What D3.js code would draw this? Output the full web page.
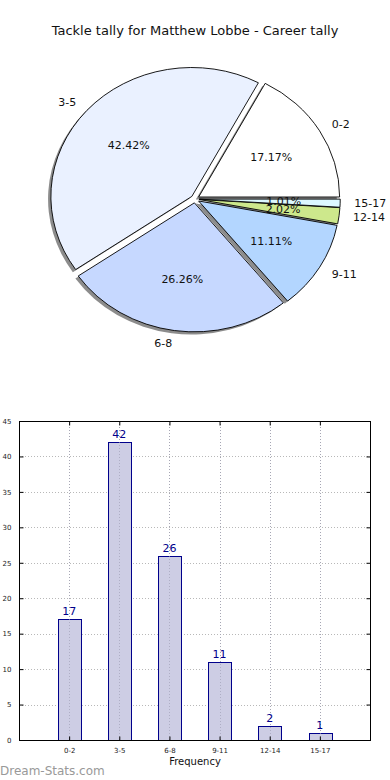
<!DOCTYPE html>
<html>
<head>
<meta charset="utf-8">
<script src="https://cdn.jsdelivr.net/npm/d3@7"></script>
<style>
  body { margin: 0; background: #fff; }
  svg { display: block; font-family: "DejaVu Sans", sans-serif; }
</style>
</head>
<body>
<script>
// data
const categories = ['0-2', '3-5', '6-8', '9-11', '12-14', '15-17'];
const counts = [17, 42, 26, 11, 2, 1];
const sliceColors = ['#ffffff', '#eaf1ff', '#c6d8ff', '#b3d6ff', '#cde88c', '#dcf8ff'];
const yTicks = [0, 5, 10, 15, 20, 25, 30, 35, 40, 45];

const svg = d3.select('body').append('svg')
    .attr('width', 390)
    .attr('height', 780);

svg.append('text')
    .attr('x', 195).attr('y', 35)
    .attr('text-anchor', 'middle')
    .attr('font-size', 13)
    .attr('fill', '#111')
    .text('Tackle tally for Matthew Lobbe - Career tally');

// ---- pie (matplotlib style, counterclockwise from 3 o'clock, elliptical) ----
const cx = 195, cy = 199, rx = 141, ry = 129;
const explode = 0.03;
const total = d3.sum(counts);

const pie = d3.pie().sort(null)
    .startAngle(Math.PI / 2)
    .endAngle(Math.PI / 2 - 2 * Math.PI);
const arcs = pie(counts);
const arc = d3.arc().innerRadius(0).outerRadius(1);

const pieG = svg.append('g')
    .attr('transform', `translate(${cx},${cy}) scale(${rx},${ry})`);

function dir(d) {
    const a = (d.startAngle + d.endAngle) / 2;
    return [Math.sin(a), -Math.cos(a)];
}

// shadows
pieG.selectAll('.shadow')
    .data(arcs)
    .join('path')
    .attr('class', 'shadow')
    .attr('d', arc)
    .attr('transform', d => {
        const [ux, uy] = dir(d);
        return `translate(${ux * explode - 0.02},${uy * explode + 0.02})`;
    })
    .attr('fill', '#000')
    .attr('fill-opacity', 0.45);

// wedges
pieG.selectAll('.wedge')
    .data(arcs)
    .join('path')
    .attr('class', 'wedge')
    .attr('d', arc)
    .attr('transform', d => {
        const [ux, uy] = dir(d);
        return `translate(${ux * explode},${uy * explode})`;
    })
    .attr('fill', (d, i) => sliceColors[i])
    .attr('stroke', '#000')
    .attr('stroke-width', 0.9)
    .attr('vector-effect', 'non-scaling-stroke');

// labels
arcs.forEach((d, i) => {
    const [ux, uy] = dir(d);
    const lx = cx + (1.1 + explode) * rx * ux;
    const ly = cy + (1.1 + explode) * ry * uy;
    svg.append('text')
        .attr('x', lx).attr('y', ly)
        .attr('dy', '0.35em')
        .attr('text-anchor', ux > 0 ? 'start' : 'end')
        .attr('font-size', 11)
        .attr('fill', '#111')
        .text(categories[i]);

    const px = cx + (0.6 + explode) * rx * ux;
    const py = cy + (0.6 + explode) * ry * uy;
    svg.append('text')
        .attr('x', px).attr('y', py)
        .attr('dy', '0.35em')
        .attr('text-anchor', 'middle')
        .attr('font-size', 11)
        .attr('fill', '#111')
        .text((counts[i] / total * 100).toFixed(2) + '%');
});

// ---- bar chart ----
const plotL = 19, plotR = 370, plotT = 421, plotB = 740;
const x = d3.scaleLinear().domain([-1, 6]).range([plotL, plotR]);
const y = d3.scaleLinear().domain([0, 45]).range([plotB, plotT]);
const barW = 0.45;

const gridG = svg.append('g')
    .attr('stroke', '#b8b8b8')
    .attr('stroke-width', 1)
    .attr('stroke-dasharray', '1,2');
gridG.selectAll('.gy')
    .data(yTicks)
    .join('line')
    .attr('x1', plotL).attr('x2', plotR)
    .attr('y1', d => Math.round(y(d)) + 0.5).attr('y2', d => Math.round(y(d)) + 0.5);
gridG.selectAll('.gx')
    .data(categories)
    .join('line')
    .attr('x1', (d, i) => Math.round(x(i)) + 0.5).attr('x2', (d, i) => Math.round(x(i)) + 0.5)
    .attr('y1', plotT).attr('y2', plotB);

svg.selectAll('.bar')
    .data(counts)
    .join('rect')
    .attr('class', 'bar')
    .attr('x', (d, i) => Math.round(x(i - barW / 2)) + 0.5)
    .attr('y', d => Math.round(y(d)) + 0.5)
    .attr('width', Math.round(x(barW) - x(0)))
    .attr('height', d => plotB - Math.round(y(d)))
    .attr('fill', '#cdcde4')
    .attr('stroke', '#00008b')
    .attr('stroke-width', 1);

// grid over the bars (lighter)
const gridTop = svg.append('g')
    .attr('stroke', '#9a9ab0')
    .attr('stroke-width', 1)
    .attr('stroke-dasharray', '1,2')
    .attr('stroke-opacity', 0.6);
gridTop.selectAll('line')
    .data(categories)
    .join('line')
    .attr('x1', (d, i) => Math.round(x(i)) + 0.5).attr('x2', (d, i) => Math.round(x(i)) + 0.5)
    .attr('y1', plotT).attr('y2', plotB);

svg.selectAll('.val')
    .data(counts)
    .join('text')
    .attr('class', 'val')
    .attr('x', (d, i) => x(i))
    .attr('y', d => y(d) - 4)
    .attr('text-anchor', 'middle')
    .attr('font-size', 11)
    .attr('fill', '#00008b')
    .text(d => d);

// frame
svg.append('rect')
    .attr('x', plotL + 0.5).attr('y', plotT + 0.5)
    .attr('width', plotR - plotL).attr('height', plotB - plotT)
    .attr('fill', 'none')
    .attr('stroke', '#000')
    .attr('stroke-width', 1);

// axes (ticks inward)
const yAxis = d3.axisLeft(y).tickValues(yTicks).tickSize(-4).tickPadding(8);
svg.append('g')
    .attr('transform', `translate(${plotL + 0.5},0)`)
    .call(yAxis)
    .call(g => g.select('.domain').remove())
    .call(g => g.selectAll('text').attr('font-size', 7).attr('fill', '#222').attr('font-family', '"DejaVu Sans", sans-serif'));

const yAxisR = d3.axisRight(y).tickValues(yTicks).tickSize(-4).tickFormat('');
svg.append('g')
    .attr('transform', `translate(${plotR + 0.5},0)`)
    .call(yAxisR)
    .call(g => g.select('.domain').remove());

const xAxis = d3.axisBottom(x).tickValues(d3.range(categories.length))
    .tickFormat(i => categories[i]).tickSize(-4).tickPadding(8);
svg.append('g')
    .attr('transform', `translate(0,${plotB + 0.5})`)
    .call(xAxis)
    .call(g => g.select('.domain').remove())
    .call(g => g.selectAll('text').attr('font-size', 7).attr('fill', '#222').attr('font-family', '"DejaVu Sans", sans-serif'));

const xAxisT = d3.axisTop(x).tickValues(d3.range(categories.length)).tickSize(-4).tickFormat('');
svg.append('g')
    .attr('transform', `translate(0,${plotT + 0.5})`)
    .call(xAxisT)
    .call(g => g.select('.domain').remove());

svg.append('text')
    .attr('x', 195).attr('y', 765)
    .attr('text-anchor', 'middle')
    .attr('font-size', 10)
    .attr('fill', '#111')
    .text('Frequency');

svg.append('text')
    .attr('x', 0).attr('y', 775)
    .attr('font-size', 12)
    .attr('fill', '#999')
    .text('Dream-Stats.com');
</script>
</body>
</html>
